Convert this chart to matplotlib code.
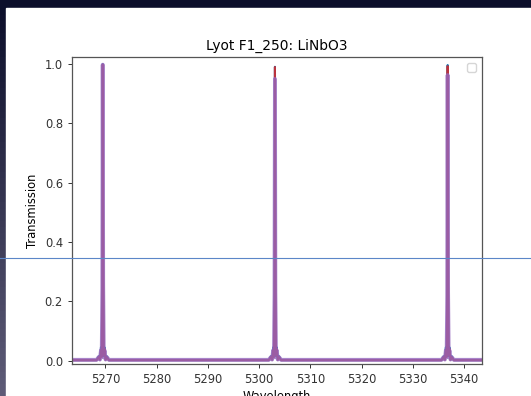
import numpy as np
import matplotlib
matplotlib.use("Agg")
import matplotlib.pyplot as plt
from matplotlib.lines import Line2D
from matplotlib.patches import Rectangle

# wavelength samples (Angstrom) around the three transmission peaks
wavelength = [5263.0,
              5268.3, 5268.7, 5268.95, 5269.15, 5269.3, 5269.42, 5269.5, 5269.58, 5269.7, 5269.85, 5270.05, 5270.3, 5270.7,
              5301.9, 5302.3, 5302.55, 5302.75, 5302.9, 5303.02, 5303.1, 5303.18, 5303.3, 5303.45, 5303.65, 5303.9, 5304.3,
              5335.6, 5336.0, 5336.25, 5336.45, 5336.6, 5336.72, 5336.8, 5336.88, 5337.0, 5337.15, 5337.35, 5337.6, 5338.0,
              5344.5]

trans_blue = [0.002,
              0.002, 0.015, 0.004, 0.045, 0.015, 0.25, 1.000, 0.25, 0.015, 0.045, 0.004, 0.015, 0.002,
              0.002, 0.015, 0.004, 0.045, 0.015, 0.25, 0.991, 0.25, 0.015, 0.045, 0.004, 0.015, 0.002,
              0.002, 0.015, 0.004, 0.045, 0.015, 0.25, 0.997, 0.25, 0.015, 0.045, 0.004, 0.015, 0.002,
              0.002]

trans_red = [0.002,
             0.002, 0.012, 0.003, 0.035, 0.012, 0.20, 0.998, 0.45, 0.018, 0.04, 0.003, 0.012, 0.002,
             0.002, 0.012, 0.003, 0.035, 0.012, 0.20, 0.990, 0.45, 0.018, 0.04, 0.003, 0.012, 0.002,
             0.002, 0.012, 0.003, 0.035, 0.012, 0.20, 0.993, 0.45, 0.018, 0.04, 0.003, 0.012, 0.002,
             0.002]

trans_purple = [0.003,
                0.003, 0.012, 0.004, 0.035, 0.012, 0.24, 0.998, 0.26, 0.012, 0.035, 0.004, 0.012, 0.003,
                0.003, 0.012, 0.004, 0.035, 0.012, 0.22, 0.950, 0.23, 0.012, 0.035, 0.004, 0.012, 0.003,
                0.003, 0.012, 0.004, 0.035, 0.012, 0.22, 0.963, 0.23, 0.012, 0.035, 0.004, 0.012, 0.003,
                0.003]

W, H = 531, 396
fig = plt.figure(figsize=(W / 100, H / 100), dpi=100)

# screenshot surroundings: dark desktop, white figure window
bg = fig.add_axes([0, 0, 1, 1])
grad = np.linspace(0, 1, 64).reshape(-1, 1)
bg.imshow(np.dstack([0.05 + 0.0 * grad, 0.06 + 0.0 * grad, 0.17 + 0.0 * grad]),
          aspect='auto', extent=[0, W, H, 0])
strip = np.dstack([0.05 + 0.32 * grad, 0.06 + 0.30 * grad, 0.17 + 0.30 * grad])
bg.imshow(strip, aspect='auto', extent=[0, 6, H, 9])
bg.add_patch(Rectangle((6, 8), W, H, color='white'))
bg.set_xlim(0, W)
bg.set_ylim(H, 0)
bg.axis('off')

ax = fig.add_axes([72 / W, (H - 364) / H, 410 / W, 307 / H])
ax.plot(wavelength, trans_blue, color='tab:blue', lw=1.5)
ax.plot(wavelength, trans_red, color='tab:red', lw=1.5, alpha=0.85)
ax.plot(wavelength, trans_purple, color='tab:purple', lw=2.8, alpha=0.8)

ax.set_xlim(5263.5, 5343.5)
ax.set_ylim(-0.011, 1.024)
ax.set_yticks([0.0, 0.2, 0.4, 0.6, 0.8, 1.0])
ax.set_title('Lyot F1_250: LiNbO3', fontsize=9.9, pad=5)
ax.set_xlabel('Wavelength', fontsize=8.3, labelpad=3)
ax.set_ylabel('Transmission', fontsize=8.3)
ax.tick_params(labelsize=8.3, length=3, width=0.7, colors='#333333')
for s in ax.spines.values():
    s.set_color('#555555')
    s.set_linewidth(0.9)
ax.legend(fontsize=8.3)

# thin blue line across the screenshot
fig.add_artist(Line2D([0, 1], [(H - 258) / H] * 2, transform=fig.transFigure,
                      color='#5b86c8', lw=0.8))

fig.savefig('out.png', dpi=100)
